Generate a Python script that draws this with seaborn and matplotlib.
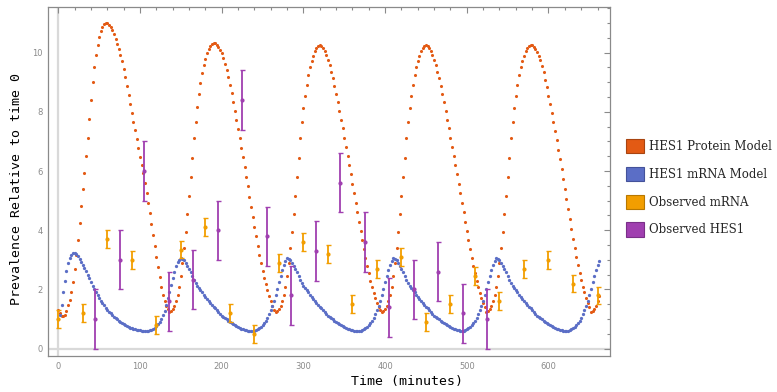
import numpy as np
import matplotlib
matplotlib.use("Agg")
import matplotlib.pyplot as plt
import seaborn as sns
from matplotlib.patches import Patch
from matplotlib.ticker import MultipleLocator

model_time = np.arange(0, 663, 2)

protein_model = [
    # first cycle (transient, peak ~11)
    1.30, 1.20, 1.12, 1.10, 1.14, 1.28, 1.47, 1.65, 1.90, 2.25,
    2.68, 3.15, 3.68, 4.25, 4.82, 5.40, 5.95, 6.50, 7.10, 7.75,
    8.40, 9.00, 9.50, 9.92, 10.25, 10.52, 10.72, 10.87, 10.96, 11.00,
    10.99, 10.94, 10.88, 10.78, 10.63, 10.46, 10.30, 10.12, 9.93, 9.70,
    9.43, 9.16, 8.87, 8.57, 8.26, 7.96, 7.67, 7.38, 7.08, 6.78,
    6.49, 6.20, 5.92, 5.60, 5.27, 4.93, 4.57, 4.20, 3.84, 3.48,
    3.11, 2.75, 2.41, 2.08, 1.80, 1.60, 1.45, 1.33,
    # second cycle
    1.25, 1.27, 1.33, 1.43, 1.60, 1.80, 2.10, 2.45, 2.90, 3.40,
    3.95, 4.55, 5.15, 5.80, 6.45, 7.10, 7.65, 8.15, 8.60, 8.98,
    9.30, 9.57, 9.80, 9.98, 10.12, 10.22, 10.29, 10.32, 10.31, 10.27,
    10.20, 10.10, 9.97, 9.81, 9.62, 9.40, 9.16, 8.90, 8.62, 8.33,
    8.03, 7.73, 7.42, 7.11, 6.79, 6.47, 6.14, 5.81, 5.48, 5.14,
    4.80, 4.46, 4.12, 3.79, 3.47, 3.17, 2.89, 2.63, 2.39, 2.17,
    1.97, 1.78, 1.60, 1.44, 1.32,
    # third cycle
    1.25, 1.27, 1.33, 1.43, 1.60, 1.80, 2.10, 2.45, 2.90, 3.40,
    3.95, 4.55, 5.15, 5.80, 6.45, 7.10, 7.65, 8.12, 8.55, 8.92,
    9.24, 9.50, 9.72, 9.90, 10.05, 10.15, 10.22, 10.25, 10.22, 10.15,
    10.05, 9.92, 9.76, 9.57, 9.36, 9.13, 8.88, 8.61, 8.33, 8.04,
    7.74, 7.44, 7.13, 6.82, 6.51, 6.20, 5.89, 5.57, 5.25, 4.93,
    4.61, 4.29, 3.97, 3.66, 3.36, 3.07, 2.80, 2.54, 2.30, 2.08,
    1.88, 1.70, 1.54, 1.40, 1.30,
    # fourth cycle
    1.25, 1.27, 1.33, 1.43, 1.60, 1.80, 2.10, 2.45, 2.90, 3.40,
    3.95, 4.55, 5.15, 5.80, 6.45, 7.10, 7.65, 8.12, 8.55, 8.92,
    9.24, 9.50, 9.72, 9.90, 10.05, 10.15, 10.22, 10.25, 10.22, 10.15,
    10.05, 9.92, 9.76, 9.57, 9.36, 9.13, 8.88, 8.61, 8.33, 8.04,
    7.74, 7.44, 7.13, 6.82, 6.51, 6.20, 5.89, 5.57, 5.25, 4.93,
    4.61, 4.29, 3.97, 3.66, 3.36, 3.07, 2.80, 2.54, 2.30, 2.08,
    1.88, 1.70, 1.54, 1.40,
    # fifth cycle
    1.25, 1.27, 1.33, 1.43, 1.60, 1.80, 2.10, 2.45, 2.90, 3.40,
    3.95, 4.55, 5.15, 5.80, 6.45, 7.10, 7.65, 8.12, 8.55, 8.92,
    9.24, 9.50, 9.72, 9.90, 10.05, 10.15, 10.22, 10.25, 10.24, 10.20,
    10.13, 10.03, 9.90, 9.74, 9.55, 9.33, 9.09, 8.83, 8.55, 8.26,
    7.96, 7.66, 7.35, 7.04, 6.72, 6.40, 6.07, 5.74, 5.41, 5.07,
    4.73, 4.39, 4.05, 3.72, 3.40, 3.10, 2.82, 2.56, 2.32, 2.10,
    1.90, 1.71, 1.54, 1.40,
    # start of sixth cycle
    1.25, 1.27, 1.33, 1.43, 1.60, 1.78,
]

mrna_model = [
    # first cycle
    1.00, 1.15, 1.48, 1.90, 2.30, 2.62, 2.88, 3.06, 3.17, 3.23,
    3.24, 3.20, 3.13, 3.04, 2.94, 2.83, 2.72, 2.61, 2.50, 2.38,
    2.26, 2.13, 2.01, 1.91, 1.81, 1.71, 1.62, 1.54, 1.46, 1.39,
    1.31, 1.25, 1.19, 1.14, 1.08, 1.03, 0.99, 0.95, 0.90, 0.86,
    0.82, 0.79, 0.76, 0.73, 0.71, 0.69, 0.67, 0.65, 0.64, 0.63,
    0.62, 0.61, 0.60, 0.60, 0.60, 0.61, 0.62, 0.64, 0.67, 0.71,
    0.76, 0.82, 0.90, 1.00, 1.13, 1.29, 1.48, 1.70, 1.93, 2.16,
    2.38, 2.60, 2.78, 2.92, 3.01,
    # second cycle
    3.05, 3.04, 2.99, 2.91, 2.81, 2.70, 2.58, 2.45, 2.33, 2.22,
    2.13, 2.05, 1.97, 1.90, 1.82, 1.74, 1.67, 1.60, 1.53, 1.47,
    1.42, 1.36, 1.30, 1.23, 1.17, 1.12, 1.07, 1.03, 0.99, 0.95,
    0.91, 0.87, 0.83, 0.79, 0.76, 0.73, 0.71, 0.68, 0.66, 0.64,
    0.62, 0.61, 0.60, 0.60, 0.60, 0.61, 0.63, 0.66, 0.69, 0.74,
    0.79, 0.86, 0.94, 1.05, 1.17, 1.30, 1.45, 1.62, 1.80, 2.02,
    2.25, 2.46, 2.67, 2.84, 2.97,
    # third cycle
    3.05, 3.04, 2.99, 2.91, 2.81, 2.70, 2.58, 2.45, 2.33, 2.22,
    2.13, 2.05, 1.97, 1.90, 1.82, 1.74, 1.67, 1.60, 1.53, 1.47,
    1.42, 1.36, 1.30, 1.23, 1.17, 1.12, 1.07, 1.03, 0.99, 0.95,
    0.91, 0.87, 0.83, 0.79, 0.76, 0.73, 0.71, 0.68, 0.66, 0.64,
    0.62, 0.61, 0.60, 0.60, 0.60, 0.61, 0.63, 0.66, 0.69, 0.74,
    0.79, 0.86, 0.94, 1.05, 1.17, 1.30, 1.45, 1.62, 1.80, 2.02,
    2.25, 2.46, 2.67, 2.84, 2.97,
    # fourth cycle
    3.05, 3.04, 2.99, 2.91, 2.81, 2.70, 2.58, 2.45, 2.33, 2.22,
    2.13, 2.05, 1.97, 1.90, 1.82, 1.74, 1.67, 1.60, 1.53, 1.47,
    1.42, 1.36, 1.30, 1.23, 1.17, 1.12, 1.07, 1.03, 0.99, 0.95,
    0.91, 0.87, 0.83, 0.79, 0.76, 0.73, 0.71, 0.68, 0.66, 0.64,
    0.62, 0.60, 0.60, 0.61, 0.63, 0.66, 0.69, 0.74, 0.79, 0.86,
    0.94, 1.05, 1.17, 1.30, 1.45, 1.62, 1.80, 2.02, 2.25, 2.46,
    2.67, 2.84, 2.97,
    # fifth cycle
    3.05, 3.04, 2.99, 2.91, 2.81, 2.70, 2.58, 2.45, 2.33, 2.22,
    2.13, 2.05, 1.97, 1.90, 1.82, 1.74, 1.67, 1.60, 1.53, 1.47,
    1.42, 1.36, 1.30, 1.23, 1.17, 1.12, 1.07, 1.03, 0.99, 0.95,
    0.91, 0.87, 0.83, 0.79, 0.76, 0.73, 0.71, 0.68, 0.66, 0.64,
    0.62, 0.61, 0.60, 0.60, 0.61, 0.63, 0.66, 0.69, 0.74, 0.79,
    0.86, 0.94, 1.05, 1.17, 1.30, 1.45, 1.62, 1.80, 2.02, 2.25,
    2.46, 2.67, 2.84, 2.97,
]

# observed data with error bars
obs_mrna_time = [0, 30, 60, 90, 120, 150, 180, 210, 240, 270, 300, 330,
                 360, 390, 420, 450, 480, 510, 540, 570, 600, 630, 660]
obs_mrna = [1.0, 1.2, 3.7, 3.0, 0.8, 3.35, 4.1, 1.2, 0.5, 2.9, 3.6, 3.2,
            1.5, 2.7, 3.1, 0.9, 1.5, 2.45, 1.6, 2.7, 3.0, 2.2, 1.8]
obs_mrna_err = [0.3] * len(obs_mrna)

obs_hes1_time = [45, 75, 105, 135, 165, 195, 225, 255, 285, 315, 345,
                 375, 405, 435, 465, 495, 525]
obs_hes1 = [1.0, 3.0, 6.0, 1.6, 2.33, 4.0, 8.4, 3.8, 1.8, 3.3, 5.6,
            3.6, 1.4, 2.0, 2.6, 1.2, 1.0]
obs_hes1_err = [1.0] * len(obs_hes1)

legend_labels = ["HES1 Protein Model", "HES1 mRNA Model",
                 "Observed mRNA", "Observed HES1"]

c_protein = "#E35A14"
c_mrna = "#5B6EC6"
c_obs_mrna = "#F29E00"
c_obs_hes1 = "#A03FB0"

sns.set_theme(style="white")

fig = plt.figure(figsize=(7.77, 3.92), dpi=100)
W, H = 777, 392
ax = fig.add_axes([47.7 / W, 1 - 355.7 / H, (610 - 47.7) / W, (355.7 - 6.7) / H])

# grey axis lines through the origin
ax.axhline(0, color="#d9d9d9", lw=1.6, zorder=0)
ax.axvline(0, color="#d9d9d9", lw=1.6, zorder=0)

sns.scatterplot(x=model_time, y=protein_model, color=c_protein, s=5,
                linewidth=0, ax=ax, zorder=2, legend=False)
sns.scatterplot(x=model_time, y=mrna_model, color=c_mrna, s=5.5,
                linewidth=0, ax=ax, zorder=3, legend=False)

ax.errorbar(obs_mrna_time, obs_mrna, yerr=obs_mrna_err, fmt="o", ms=2,
            color=c_obs_mrna, elinewidth=1.3, capsize=1.8, capthick=1, zorder=4)
ax.errorbar(obs_hes1_time, obs_hes1, yerr=obs_hes1_err, fmt="o", ms=2,
            color=c_obs_hes1, elinewidth=1.3, capsize=1.8, capthick=1, zorder=4)

ax.set_xlim(-13, 675.3)
ax.set_ylim(-0.236, 11.55)

ax.xaxis.set_major_locator(MultipleLocator(100))
ax.xaxis.set_minor_locator(MultipleLocator(20))
ax.yaxis.set_major_locator(MultipleLocator(2))
ax.yaxis.set_minor_locator(MultipleLocator(0.5))
ax.tick_params(which="both", direction="in", top=True, right=True,
               color="#8a8a8a", width=0.8, labelcolor="#8a8a8a", labelsize=6)
ax.tick_params(which="major", length=4)
ax.tick_params(which="minor", length=2.5)
ax.tick_params(axis="x", pad=4.3)
ax.tick_params(axis="y", pad=3.6)

for sp in ax.spines.values():
    sp.set_color("#8a8a8a")
    sp.set_linewidth(0.9)

ax.set_xlabel("Time (minutes)", family="DejaVu Sans Mono", fontsize=9.5, color="black")
ax.set_ylabel("Prevalence Relative to time 0", family="DejaVu Sans Mono", fontsize=9.5, color="black")
ax.xaxis.set_label_coords(0.639, -0.055)
ax.yaxis.set_label_coords(-0.044, 0.479)

handles = [
    Patch(facecolor=c_protein, edgecolor="#a84410", linewidth=0.8),
    Patch(facecolor=c_mrna, edgecolor="#44529a", linewidth=0.8),
    Patch(facecolor=c_obs_mrna, edgecolor="#b87800", linewidth=0.8),
    Patch(facecolor=c_obs_hes1, edgecolor="#7a2f88", linewidth=0.8),
]
fig.legend(handles, legend_labels, loc="upper left",
           bbox_to_anchor=(626 / W, 1 - 139 / H), frameon=False,
           prop={"family": "DejaVu Serif", "size": 8.5},
           handlelength=1.5, handleheight=1.45, handletextpad=0.45,
           labelspacing=1.17, borderpad=0, borderaxespad=0)

fig.savefig("out.png", dpi=100)
